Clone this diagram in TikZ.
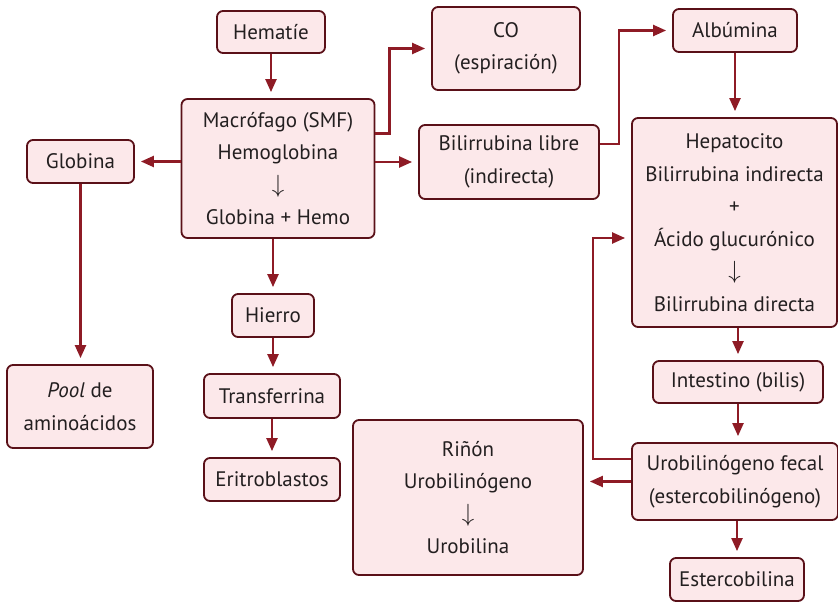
\documentclass[tikz,border=0pt]{standalone}
\usepackage{fontspec}
\setmainfont{PT Sans}
\usetikzlibrary{arrows.meta}

\definecolor{boxfill}{HTML}{FCE8EA}
\definecolor{boxline}{HTML}{5A1018}
\definecolor{arrred}{HTML}{8E1B25}
\definecolor{txt}{HTML}{231F20}

\newcommand{\darr}{\scalebox{1.2}{$\downarrow$}}

\begin{document}
\begin{tikzpicture}[x=1pt, y=-1pt,
    box/.style={draw=boxline, line width=1.8pt, fill=boxfill, rounded corners=6pt,
      align=center, inner sep=0pt, text=txt,
      font=\fontsize{21}{32.5}\selectfont},
    arr/.style={draw=arrred, line width=2.2pt,
      -{Triangle[length=13pt,width=11pt]}, shorten >=6pt}]
  \useasboundingbox (0,0) rectangle (838,602);

  % Boxes, left column
  \node[box, minimum width=107pt, minimum height=43pt] (glo) at (80.5,161.5) {Globina};
  \node[box, minimum width=146pt, minimum height=83pt] (pool) at (80,406.5) {\textit{Pool} de\\aminoácidos};

  % Boxes, macrophage column
  \node[box, minimum width=108pt, minimum height=42pt] (hem) at (271,32) {Hematíe};
  \node[box, minimum width=193pt, minimum height=139pt] (mac) at (278,168.5)
    {Macrófago (SMF)\\Hemoglobina\\\darr\\Globina + Hemo};
  \node[box, minimum width=82pt, minimum height=43pt] (hie) at (273,315.5) {Hierro};
  \node[box, minimum width=136pt, minimum height=44pt] (tra) at (272,396) {Transferrina};
  \node[box, minimum width=136pt, minimum height=43pt] (eri) at (272,479.5) {Eritroblastos};

  % Boxes, middle
  \node[box, minimum width=148pt, minimum height=83pt] (co) at (506,48.5) {CO\\(espiración)};
  \node[box, minimum width=180pt, minimum height=74pt] (bili) at (509,162) {Bilirrubina libre\\(indirecta)};
  \node[box, minimum width=230pt, minimum height=155pt] (rin) at (468,497.5)
    {Riñón\\Urobilinógeno\\\darr\\Urobilina};

  % Boxes, right column
  \node[box, minimum width=124pt, minimum height=43pt] (alb) at (735,30.5) {Albúmina};
  \node[box, minimum width=205pt, minimum height=209pt] (hep) at (734.5,222.5)
    {Hepatocito\\Bilirrubina indirecta\\+\\Ácido glucurónico\\\darr\\Bilirrubina directa};
  \node[box, minimum width=170pt, minimum height=42pt] (int) at (738,382) {Intestino (bilis)};
  \node[box, minimum width=206pt, minimum height=77pt] (uro) at (735,481.5)
    {Urobilinógeno fecal\\(estercobilinógeno)};
  \node[box, minimum width=134pt, minimum height=43pt] (est) at (737,579.5) {Estercobilina};

  % Connectors
  \draw[arr] (hem.south) -- (hem.south |- mac.north);
  \draw[arr] (mac.west |- glo.east) -- (glo.east);
  \draw[arr] (glo.south) -- (glo.south |- pool.north);
  \draw[arr] ([yshift=35pt]mac.east) -- ++(14,0) |- (co.west);
  \draw[arr] (mac.east |- bili.west) -- (bili.west);
  \draw[arr] (hie.north |- mac.south) -- (hie.north);
  \draw[arr] (hie.south) -- (hie.south |- tra.north);
  \draw[arr] (tra.south) -- (tra.south |- eri.north);
  \draw[arr] ([yshift=18pt]bili.east) -- ++(19,0) |- (alb.west);
  \draw[arr] (alb.south) -- (alb.south |- hep.north);
  \draw[arr] (int.north |- hep.south) -- (int.north);
  \draw[arr] (int.south) -- (int.south |- uro.north);
  \draw[arr] (est.north |- uro.south) -- (est.north);
  \draw[arr] (uro.west) -- (uro.west -| rin.east);
  \draw[arr] ([yshift=22.5pt]uro.west) -- ++(-38,0) |- ([yshift=-15.5pt]hep.west);
\end{tikzpicture}
\end{document}
